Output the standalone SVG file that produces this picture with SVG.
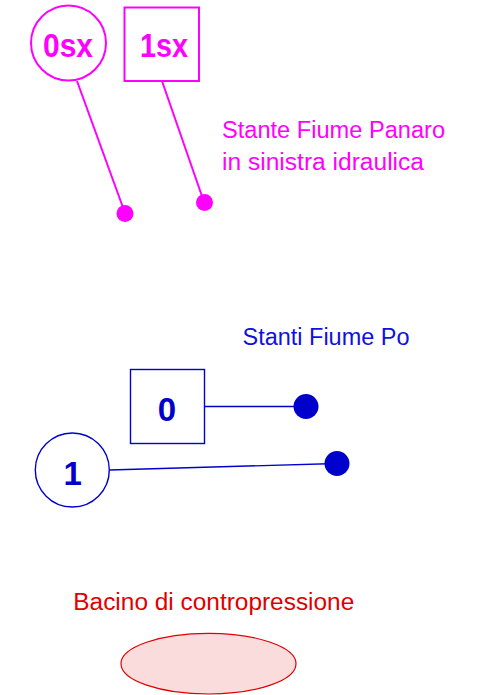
<svg xmlns="http://www.w3.org/2000/svg" width="484" height="695" viewBox="0 0 484 695">
<style>
.bg{fill:#ffffff}
.mag{stroke:#ff00ff;fill:none;stroke-width:2}
.magdot{fill:#ff00ff}
.blu{stroke:#0000cc;fill:none;stroke-width:1.4}
.bludot{fill:#0000cc}
.num{font-family:"Liberation Sans",Arial,sans-serif;font-weight:bold;font-size:33px;text-anchor:middle}
.lbl{font-family:"Liberation Sans",Arial,sans-serif;font-size:23px}
</style>
<rect class="bg" x="0" y="0" width="484" height="695"/>
<g id="connectors">
<line class="mag" x1="77" y1="81" x2="125" y2="213"/>
<line class="mag" x1="162" y1="81" x2="204" y2="202"/>
<line class="blu" x1="204.5" y1="406.5" x2="306" y2="406.5"/>
<line class="blu" x1="109.5" y1="470" x2="337" y2="463.5"/>
<circle class="magdot" cx="125" cy="213.5" r="8.5"/>
<circle class="magdot" cx="204.5" cy="202.5" r="8.5"/>
<circle class="bludot" cx="306" cy="406.5" r="12.5"/>
<circle class="bludot" cx="337" cy="463.5" r="12.5"/>
</g>
<g id="node-0sx">
<circle class="mag" cx="68.5" cy="43" r="37.5"/>
<text class="num" x="68" y="57" fill="#ff00ff" textLength="50" lengthAdjust="spacingAndGlyphs">0sx</text>
</g>
<g id="node-1sx">
<rect class="mag" x="124.5" y="7.5" width="74.5" height="73.5" stroke-width="1.4"/>
<text class="num" x="164" y="57" fill="#ff00ff" textLength="48" lengthAdjust="spacingAndGlyphs">1sx</text>
</g>
<g id="label-panaro">
<text class="lbl" x="222" y="138.3" fill="#ff00ff" textLength="223" lengthAdjust="spacingAndGlyphs">Stante Fiume Panaro</text>
<text class="lbl" x="222" y="170" fill="#ff00ff" textLength="202" lengthAdjust="spacingAndGlyphs">in sinistra idraulica</text>
</g>
<g id="label-po">
<text class="lbl" x="242.5" y="345" fill="#1010e0" textLength="167" lengthAdjust="spacingAndGlyphs">Stanti Fiume Po</text>
</g>
<g id="node-0">
<rect class="blu" x="130.5" y="369.5" width="74" height="74"/>
<text class="num" x="167" y="420.5" fill="#0000cc">0</text>
</g>
<g id="node-1">
<circle class="blu" cx="72.3" cy="470" r="37"/>
<text class="num" x="72.8" y="485" fill="#0000cc">1</text>
</g>
<g id="bacino">
<text class="lbl" x="73.3" y="609.5" fill="#e00000" textLength="281" lengthAdjust="spacingAndGlyphs">Bacino di contropressione</text>
<ellipse cx="208.5" cy="663.7" rx="87.5" ry="30.3" fill="#fadcdc" stroke="#e00000" stroke-width="1.2"/>
</g>
</svg>
